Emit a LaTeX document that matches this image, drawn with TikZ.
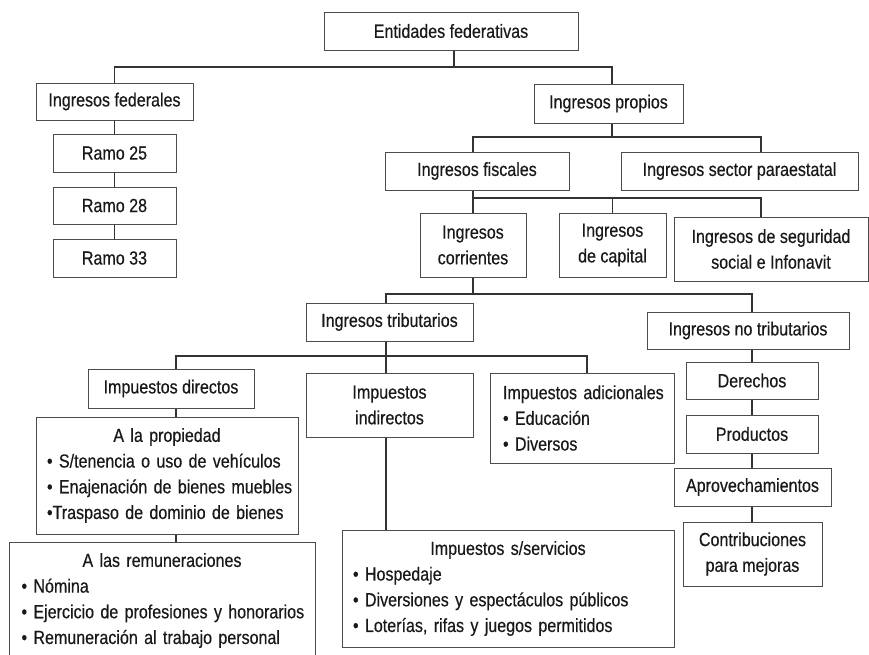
\documentclass[tikz,border=0pt]{standalone}
\usepackage{fontspec}
\setmainfont{Liberation Sans}[FakeStretch=0.845,UprightFeatures={FakeBold=0.4}]
\setlength\parindent{0pt}
\newcommand\fsz{\fontsize{19}{25.7}\selectfont}
\newcommand\hd[1]{\centering\mbox{#1}\par\raggedright}
\newcommand\li[1]{\mbox{#1}\par}
\tikzset{
  bx/.style={draw=black!70, line width=1pt, inner sep=0pt, text=black!90, font=\fsz},
  two/.style={bx, align=center},
  lst/.style={bx, inner xsep=11pt},
  ln/.style={draw=black!80, line width=1.1pt},
}
\begin{document}
\begin{tikzpicture}[x=1pt,y=-1pt]
\useasboundingbox[fill=white] (0,0) rectangle (869,654);
% branch levels and x positions
\coordinate (b1) at (0,67);
\coordinate (b2) at (0,137);
\coordinate (b3) at (0,198);
\coordinate (b4) at (0,294);
\coordinate (b5) at (0,356);
\coordinate (xe) at (454,0);
\coordinate (xq) at (612,0);
\coordinate (xp) at (761,0);
\coordinate (xt) at (386,0);
\coordinate (xd) at (176,0);
\coordinate (xa) at (587,0);
% nodes
\node[bx, minimum width=254, minimum height=38] (ent) at (451,31) {Entidades federativas};
\node[bx, minimum width=157, minimum height=37] (fed) at (114.5,101.5) {Ingresos federales};
\node[bx, minimum width=123, minimum height=38] (r25) at (114.5,153) {Ramo 25};
\node[bx, minimum width=123, minimum height=37] (r28) at (114.5,205.5) {Ramo 28};
\node[bx, minimum width=123, minimum height=38] (r33) at (114.5,258) {Ramo 33};
\node[bx, minimum width=149, minimum height=39] (prop) at (608.5,103.5) {Ingresos propios};
\node[bx, minimum width=184, minimum height=38] (fisc) at (477,171) {Ingresos fiscales};
\node[bx, minimum width=237, minimum height=38] (para) at (739.5,171) {Ingresos sector paraestatal};
\node[two, minimum width=106, minimum height=64] (corr) at (473,245) {Ingresos\\corrientes};
\node[two, minimum width=107, minimum height=64] (cap) at (612.5,245) {Ingresos\\de capital};
\node[two, minimum width=194, minimum height=64] (seg) at (771,249) {Ingresos de seguridad\\social e Infonavit};
\node[bx, minimum width=167, minimum height=38] (trib) at (389.5,322) {Ingresos tributarios};
\node[bx, minimum width=202, minimum height=37] (notr) at (748,330.5) {Ingresos no tributarios};
\node[bx, minimum width=166, minimum height=39] (dir) at (171,388.5) {Impuestos directos};
\node[two, minimum width=167, minimum height=64] (ind) at (389.5,405) {Impuestos\\indirectos};
\node[lst, minimum width=184, minimum height=90, inner xsep=13pt, text width=158] (adi) at (582,418)
  {\raggedright\li{Impuestos adicionales}\li{• Educación}\li{• Diversos}};
\node[bx, minimum width=132, minimum height=37] (der) at (752,380.5) {Derechos};
\node[bx, minimum width=132, minimum height=38] (prod) at (752,434) {Productos};
\node[bx, minimum width=157, minimum height=38] (apr) at (752.5,487) {Aprovechamientos};
\node[two, minimum width=139, minimum height=64] (con) at (752.5,554) {Contribuciones\\para mejoras};
\node[lst, minimum width=262, minimum height=117, text width=240] (pro) at (167,475.5)
  {\hd{A la propiedad}\li{• S/tenencia o uso de vehículos}\li{• Enajenación de bienes muebles}\li{•Traspaso de dominio de bienes}};
\node[lst, minimum width=306, minimum height=117, inner xsep=12.5pt, text width=281] (rem) at (162,600.5)
  {\hd{A las remuneraciones}\li{• Nómina}\li{• Ejercicio de profesiones y honorarios}\li{• Remuneración al trabajo personal}};
\node[lst, minimum width=332, minimum height=117, text width=310] (serv) at (508,588.5)
  {\hd{Impuestos s/servicios}\li{• Hospedaje}\li{• Diversiones y espectáculos públicos}\li{• Loterías, rifas y juegos permitidos}};
% connectors
\draw[ln] (xe |- ent.south) -- (xe |- b1);
\draw[ln] (fed.north) -- (fed.north |- b1) -- (xq |- b1) -- (xq |- prop.north);
\draw[ln] (fed.south) -- (r25.north);
\draw[ln] (r25.south) -- (r28.north);
\draw[ln] (r28.south) -- (r33.north);
\draw[ln] (xq |- prop.south) -- (xq |- b2);
\draw[ln] (corr.north |- fisc.north) -- (corr.north |- b2) -- (xp |- b2) -- (xp |- para.north);
\draw[ln] (corr.north |- fisc.south) -- (corr.north);
\draw[ln] (corr.north |- b3) -- (xp |- b3) -- (xp |- seg.north);
\draw[ln] (cap.north |- b3) -- (cap.north);
\draw[ln] (corr.south) -- (corr.south |- b4);
\draw[ln] (xt |- trib.north) -- (xt |- b4) -- (der.north |- b4) -- (der.north |- notr.north);
\draw[ln] (xt |- trib.south) -- (xt |- ind.north);
\draw[ln] (xd |- dir.north) -- (xd |- b5) -- (xa |- b5) -- (xa |- adi.north);
\draw[ln] (xd |- dir.south) -- (xd |- pro.north);
\draw[ln] (xd |- pro.south) -- (xd |- rem.north);
\draw[ln] (xt |- ind.south) -- (xt |- serv.north);
\draw[ln] (der.north |- notr.south) -- (der.north);
\draw[ln] (der.south) -- (prod.north);
\draw[ln] (prod.south) -- (der.south |- apr.north);
\draw[ln] (der.south |- apr.south) -- (der.south |- con.north);
\end{tikzpicture}
\end{document}
